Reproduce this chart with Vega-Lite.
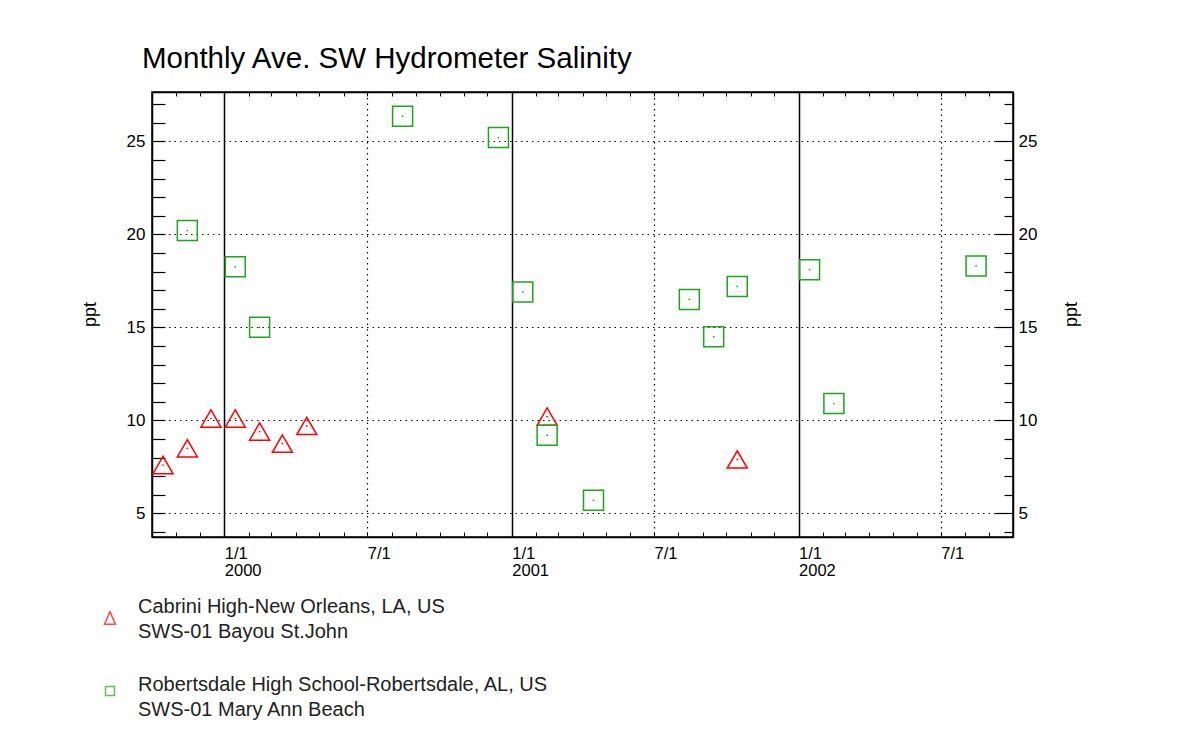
{
  "$schema": "https://vega.github.io/schema/vega-lite/v6.json",
  "autosize": {"type": "none"},
  "padding": {"left": 152, "top": 92, "right": 178, "bottom": 219},
  "width": 861,
  "height": 445,
  "background": "white",
  "title": {
    "text": "Monthly Ave. SW Hydrometer Salinity",
    "anchor": "start",
    "frame": "group",
    "dx": -10,
    "dy": 30,
    "offset": 24,
    "baseline": "alphabetic",
    "font": "Liberation Sans",
    "fontSize": 29.5,
    "fontWeight": "normal",
    "color": "black"
  },
  "data": {
    "values": [
      {"date": "1999-10-15", "ppt": 7.6, "site": "Cabrini High-New Orleans, LA, US|SWS-01 Bayou St.John"},
      {"date": "1999-11-15", "ppt": 8.5, "site": "Cabrini High-New Orleans, LA, US|SWS-01 Bayou St.John"},
      {"date": "1999-12-15", "ppt": 10.1, "site": "Cabrini High-New Orleans, LA, US|SWS-01 Bayou St.John"},
      {"date": "2000-01-15", "ppt": 10.1, "site": "Cabrini High-New Orleans, LA, US|SWS-01 Bayou St.John"},
      {"date": "2000-02-15", "ppt": 9.4, "site": "Cabrini High-New Orleans, LA, US|SWS-01 Bayou St.John"},
      {"date": "2000-03-15", "ppt": 8.75, "site": "Cabrini High-New Orleans, LA, US|SWS-01 Bayou St.John"},
      {"date": "2000-04-15", "ppt": 9.7, "site": "Cabrini High-New Orleans, LA, US|SWS-01 Bayou St.John"},
      {"date": "2001-02-15", "ppt": 10.2, "site": "Cabrini High-New Orleans, LA, US|SWS-01 Bayou St.John"},
      {"date": "2001-10-15", "ppt": 7.9, "site": "Cabrini High-New Orleans, LA, US|SWS-01 Bayou St.John"},
      {"date": "1999-11-15", "ppt": 20.2, "site": "Robertsdale High School-Robertsdale, AL, US|SWS-01 Mary Ann Beach"},
      {"date": "2000-01-15", "ppt": 18.25, "site": "Robertsdale High School-Robertsdale, AL, US|SWS-01 Mary Ann Beach"},
      {"date": "2000-02-15", "ppt": 15.0, "site": "Robertsdale High School-Robertsdale, AL, US|SWS-01 Mary Ann Beach"},
      {"date": "2000-08-15", "ppt": 26.35, "site": "Robertsdale High School-Robertsdale, AL, US|SWS-01 Mary Ann Beach"},
      {"date": "2000-12-15", "ppt": 25.2, "site": "Robertsdale High School-Robertsdale, AL, US|SWS-01 Mary Ann Beach"},
      {"date": "2001-01-15", "ppt": 16.9, "site": "Robertsdale High School-Robertsdale, AL, US|SWS-01 Mary Ann Beach"},
      {"date": "2001-02-15", "ppt": 9.2, "site": "Robertsdale High School-Robertsdale, AL, US|SWS-01 Mary Ann Beach"},
      {"date": "2001-04-15", "ppt": 5.7, "site": "Robertsdale High School-Robertsdale, AL, US|SWS-01 Mary Ann Beach"},
      {"date": "2001-08-15", "ppt": 16.5, "site": "Robertsdale High School-Robertsdale, AL, US|SWS-01 Mary Ann Beach"},
      {"date": "2001-09-15", "ppt": 14.5, "site": "Robertsdale High School-Robertsdale, AL, US|SWS-01 Mary Ann Beach"},
      {"date": "2001-10-15", "ppt": 17.2, "site": "Robertsdale High School-Robertsdale, AL, US|SWS-01 Mary Ann Beach"},
      {"date": "2002-01-15", "ppt": 18.1, "site": "Robertsdale High School-Robertsdale, AL, US|SWS-01 Mary Ann Beach"},
      {"date": "2002-02-15", "ppt": 10.9, "site": "Robertsdale High School-Robertsdale, AL, US|SWS-01 Mary Ann Beach"},
      {"date": "2002-08-15", "ppt": 18.3, "site": "Robertsdale High School-Robertsdale, AL, US|SWS-01 Mary Ann Beach"}
    ]
  },
  "layer": [
    {
      "mark": {"type": "point", "filled": false, "strokeWidth": 1.5, "size": 400, "opacity": 1},
      "encoding": {
        "x": {
          "field": "date", "type": "temporal",
          "scale": {"type": "utc", "domain": [{"year": 1999, "month": 10, "date": 1, "utc": true}, {"year": 2002, "month": 10, "date": 1, "utc": true}], "nice": false},
          "axis": {
            "orient": "bottom",
            "title": null,
            "tickCount": {"interval": "month", "step": 1},
            "labelExpr": "utcmonth(datum.value) == 0 ? ['1/1', '' + utcyear(datum.value)] : (utcmonth(datum.value) == 6 ? '7/1' : '')",
            "labelOverlap": false,
            "labelFlush": false,
            "labelAlign": "left",
            "labelBaseline": "top",
            "labelPadding": 13,
            "labelFont": "Liberation Sans",
            "labelFontSize": 16.5,
            "labelLineHeight": 17.5,
            "labelColor": "black",
            "tickSize": -5,
            "tickColor": "black",
            "tickWidth": 1,
            "domainColor": "black",
            "domainWidth": 1.5,
            "grid": true,
            "gridColor": "black",
            "gridOpacity": {"condition": {"test": "utcmonth(datum.value) % 6 == 0", "value": 1}, "value": 0},
            "gridDash": {"condition": {"test": "utcmonth(datum.value) == 0", "value": []}, "value": [1.5, 4]},
            "gridWidth": {"condition": {"test": "utcmonth(datum.value) == 0", "value": 1.5}, "value": 1.2}
          }
        },
        "y": {
          "field": "ppt", "type": "quantitative",
          "scale": {"domain": [3.73, 27.65], "nice": false, "zero": false},
          "axis": {
            "orient": "left",
            "title": "ppt",
            "titleFont": "Liberation Sans",
            "titleFontSize": 18,
            "titleFontWeight": "normal",
            "titleColor": "black",
            "titleX": -62,
            "titleY": 222,
            "titleAngle": 270,
            "titleAlign": "center",
            "titleBaseline": "middle",
            "values": [4, 5, 6, 7, 8, 9, 10, 11, 12, 13, 14, 15, 16, 17, 18, 19, 20, 21, 22, 23, 24, 25, 26, 27],
            "labelExpr": "datum.value % 5 == 0 ? datum.label : ''",
            "labelFont": "Liberation Sans",
            "labelFontSize": 17,
            "labelColor": "black",
            "labelPadding": 20,
            "labelOverlap": false,
            "labelFlush": false,
            "tickSize": -13,
            "tickColor": "black",
            "tickWidth": 1.2,
            "domainColor": "black",
            "domainWidth": 1.5,
            "grid": true,
            "gridColor": "black",
            "gridOpacity": {"condition": {"test": "datum.value % 5 == 0", "value": 1}, "value": 0},
            "gridDash": [1.5, 4],
            "gridWidth": 1.2
          }
        },
        "shape": {
          "field": "site", "type": "nominal",
          "scale": {"range": ["triangle-up", "square"]},
          "legend": null
        },
        "color": {
          "field": "site", "type": "nominal",
          "scale": {"range": ["#ff0000", "#1ea51e"]},
          "legend": null
        }
      }
    },
    {
      "mark": {"type": "point", "filled": true, "size": 3, "strokeWidth": 0, "opacity": 1},
      "encoding": {
        "x": {
          "field": "date", "type": "temporal",
          "axis": {
            "orient": "top",
            "title": null,
            "tickCount": {"interval": "month", "step": 1},
            "labels": false,
            "grid": false,
            "tickSize": -4,
            "tickColor": "black",
            "domainColor": "black",
            "domainWidth": 1.5
          }
        },
        "y": {
          "field": "ppt", "type": "quantitative",
          "axis": {
            "orient": "right",
            "title": "ppt",
            "titleFont": "Liberation Sans",
            "titleFontSize": 18,
            "titleFontWeight": "normal",
            "titleColor": "black",
            "titleX": 58,
            "titleY": 222,
            "titleAngle": 270,
            "titleAlign": "center",
            "titleBaseline": "middle",
            "values": [4, 5, 6, 7, 8, 9, 10, 11, 12, 13, 14, 15, 16, 17, 18, 19, 20, 21, 22, 23, 24, 25, 26, 27],
            "labelExpr": "datum.value % 5 == 0 ? datum.label : ''",
            "labelFont": "Liberation Sans",
            "labelFontSize": 17,
            "labelColor": "black",
            "labelPadding": 23,
            "labelOverlap": false,
            "labelFlush": false,
            "tickSize": {"condition": {"test": "datum.value % 5 == 0", "value": -18}, "value": -9},
            "tickColor": "black",
            "tickWidth": 1.2,
            "domainColor": "black",
            "domainWidth": 1.5,
            "grid": false
          }
        },
        "fill": {
          "field": "site", "type": "nominal",
          "scale": {"range": ["#ff0000", "#1ea51e"]},
          "legend": null
        }
      }
    },
    {
      "transform": [{"filter": "false"}],
      "mark": {"type": "point", "filled": false, "strokeWidth": 1.5, "size": 100},
      "encoding": {
        "x": {"field": "date", "type": "temporal", "axis": null},
        "y": {"field": "ppt", "type": "quantitative", "axis": null},
        "stroke": {
          "field": "site", "type": "nominal",
          "scale": {
            "domain": ["Cabrini High-New Orleans, LA, US|SWS-01 Bayou St.John", "Robertsdale High School-Robertsdale, AL, US|SWS-01 Mary Ann Beach"],
            "range": ["#ff0000", "#1ea51e"]
          },
          "legend": {
            "title": null,
            "orient": "none",
            "legendX": -52,
            "legendY": 505,
            "padding": 0,
            "symbolSize": 100,
            "symbolStrokeWidth": 1.5,
            "symbolFillColor": "transparent",
            "labelExpr": "split(datum.label, '|')",
            "labelFont": "Liberation Sans",
            "labelFontSize": 20,
            "labelColor": "#222",
            "labelOffset": 18,
            "labelLimit": 0,
            "rowPadding": 33
          }
        },
        "shape": {
          "field": "site", "type": "nominal",
          "scale": {
            "domain": ["Cabrini High-New Orleans, LA, US|SWS-01 Bayou St.John", "Robertsdale High School-Robertsdale, AL, US|SWS-01 Mary Ann Beach"],
            "range": ["M0,0.93L1.1,3.47L-1.1,3.47Z", "M-0.9,0.3L0.9,0.3L0.9,2.1L-0.9,2.1Z"]
          },
          "legend": {
            "title": null,
            "orient": "none",
            "legendX": -52,
            "legendY": 505,
            "padding": 0,
            "symbolSize": 100,
            "symbolStrokeWidth": 1.5,
            "symbolFillColor": "transparent",
            "labelExpr": "split(datum.label, '|')",
            "labelFont": "Liberation Sans",
            "labelFontSize": 20,
            "labelColor": "#222",
            "labelOffset": 18,
            "labelLimit": 0,
            "rowPadding": 33
          }
        }
      }
    }
  ],
  "resolve": {
    "axis": {"x": "independent", "y": "independent"},
    "scale": {"shape": "independent", "stroke": "independent"},
    "legend": {"shape": "independent", "stroke": "independent"}
  },
  "config": {
    "view": {"stroke": "black", "strokeWidth": 1.5},
    "font": "Liberation Sans",
    "style": {"guide-label": {"lineHeight": 25}}
  }
}
